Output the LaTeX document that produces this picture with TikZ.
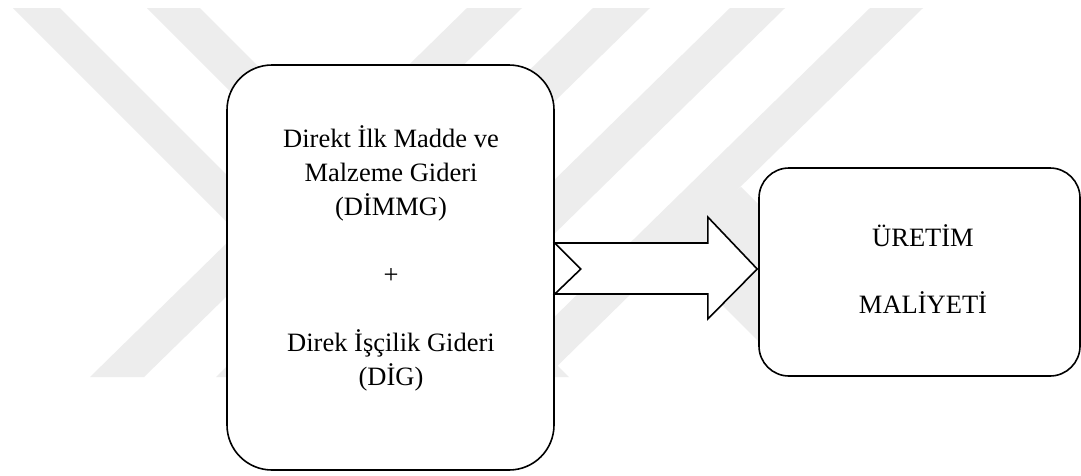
\documentclass[tikz,border=0pt]{standalone}
\usepackage{fontspec}
\setmainfont{Liberation Serif}
\definecolor{wm}{gray}{0.93}
\tikzset{
  box/.style={draw=black, line width=1.6pt, fill=white, inner sep=0pt},
  lbl/.style={anchor=base, inner sep=0pt, font=\fontsize{26.5}{32}\selectfont},
  band/.style={fill=wm, draw=none},
  bigarrow/.style={draw=black, line width=1.6pt, fill=white, line join=miter}
}
\begin{document}
\begin{tikzpicture}[x=1pt,y=-1pt]
\useasboundingbox (0,0) rectangle (1081,475);
\fill[white] (0,0) rectangle (1081,475);
% watermark bands
\fill[band] (13,8) -- (60,8) -- (429,377) -- (382,377) -- cycle;
\fill[band] (147,8) -- (200,8) -- (569,377) -- (516,377) -- cycle;
\fill[band] (467,8) -- (522,8) -- (144,377) -- (90,377) -- cycle;
\fill[band] (593,8) -- (650,8) -- (273,377) -- (216,377) -- cycle;
\fill[band] (730,8) -- (785,8) -- (408,377) -- (353,377) -- cycle;
\fill[band] (870,8) -- (923,8) -- (546,377) -- (493,377) -- cycle;
\fill[band] (741,187) -- (931,377) -- (794,377) -- (660,243) -- cycle;
% boxes
\node[box, rounded corners=45pt, minimum width=327pt, minimum height=405pt] (L) at (390.5,267.5) {};
\node[box, rounded corners=30pt, minimum width=321pt, minimum height=208pt] (R) at (919.5,272) {};
% texts
\node[lbl] (t1) at (391,147) {Direkt İlk Madde ve};
\node[lbl] (t2) at (391,181) {Malzeme Gideri};
\node[lbl] (t3) at (391,215) {(DİMMG)};
\node[lbl] (t4) at (391,283) {+};
\node[lbl] (t5) at (391,351) {Direk İşçilik Gideri};
\node[lbl] (t6) at (391,385) {(DİG)};
\node[lbl] (u1) at (923,246) {ÜRETİM};
\node[lbl] (u2) at (923,313) {MALİYETİ};
% notched block arrow
\path (L.east) ++(0,1.5) coordinate (tail);
\path (R.west) ++(-1,-3) coordinate (tip);
\draw[bigarrow] ([shift={(0,-26)}]tail) -- ([shift={(153,-26)}]tail) -- ([shift={(153,-52)}]tail) -- (tip) -- ([shift={(153,50)}]tail) -- ([shift={(153,25)}]tail) -- ([shift={(0,25)}]tail) -- ([shift={(26,0)}]tail) -- cycle;
\end{tikzpicture}
\end{document}
